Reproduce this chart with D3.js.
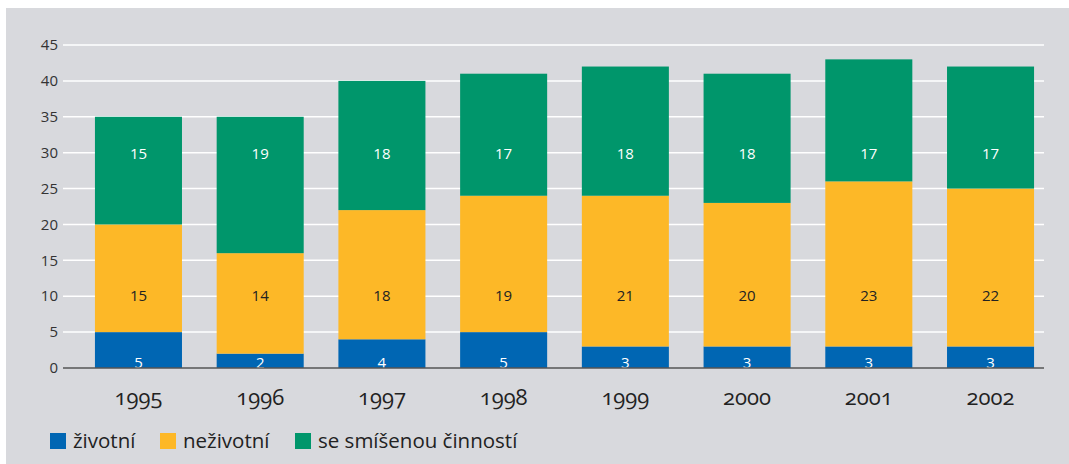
<!DOCTYPE html>
<html>
<head>
<meta charset="utf-8">
<script src="https://cdn.jsdelivr.net/npm/d3@7"></script>
<style>
  body { margin: 0; background: #fff; }
  svg { display: block; font-family: "Open Sans", "DejaVu Sans", sans-serif; }
  .tick-label { font-size: 15px; fill: #333; }
  .year { font-size: 22px; fill: #222; font-variant-numeric: oldstyle-nums; }
  .val { font-size: 15px; }
  .legend text { font-size: 20.5px; fill: #222; }
</style>
</head>
<body>
<div id="chart"></div>
<script>
// Years on the x axis
var years = ["1995", "1996", "1997", "1998", "1999", "2000", "2001", "2002"];
// Series values (stacked bottom to top)
var zivotni = [5, 2, 4, 5, 3, 3, 3, 3];
var nezivotni = [15, 14, 18, 19, 21, 20, 23, 22];
var smisenou = [15, 19, 18, 17, 18, 18, 17, 17];
var seriesNames = ["životní", "neživotní", "se smíšenou činností"];
var yTicks = [0, 5, 10, 15, 20, 25, 30, 35, 40, 45];

function stackedChart(id) {
  var width = 1069, height = 464;
  var colors = ["#0066b3", "#fdb827", "#00966b"];
  var labelColors = ["#fff", "#222", "#fff"];
  // fixed label heights, in data units, for each series
  var labelAt = [0, 10, 29.8];

  var svg = d3.select("div#" + id)
    .append("svg")
      .attr("width", width)
      .attr("height", height);

  // grey panel
  svg.append("rect")
    .attr("x", 6).attr("y", 8)
    .attr("width", width - 6).attr("height", height - 8)
    .attr("fill", "#d8d9dd");

  var gridLeft = 63, gridRight = 1044;

  var xScale = d3.scaleBand()
      .domain(years)
      .range([77.6, 1051.4])
      .paddingInner(0.285)
      .paddingOuter(0.1425);

  var yScale = d3.scaleLinear()
      .domain([0, 45])
      .range([368, 45]);

  // gridlines
  svg.append("g").selectAll("line")
    .data(yTicks.filter(function (d) { return d > 0; }))
    .enter().append("line")
      .attr("x1", gridLeft).attr("x2", gridRight)
      .attr("y1", function (d) { return yScale(d); })
      .attr("y2", function (d) { return yScale(d); })
      .attr("stroke", "#fff")
      .attr("stroke-width", 1.5);

  // y tick labels
  svg.append("g").selectAll("text")
    .data(yTicks)
    .enter().append("text")
      .attr("class", "tick-label")
      .attr("x", 58)
      .attr("y", function (d) { return yScale(d); })
      .attr("dy", "0.35em")
      .attr("text-anchor", "end")
      .text(function (d) { return d; });

  // build stack from the arrays
  var table = years.map(function (y, i) {
    return { year: y, a: zivotni[i], b: nezivotni[i], c: smisenou[i] };
  });
  var stack = d3.stack().keys(["a", "b", "c"])(table);

  var layer = svg.append("g").selectAll("g")
    .data(stack)
    .enter().append("g")
      .attr("fill", function (d, i) { return colors[i]; });

  layer.selectAll("rect")
    .data(function (d) { return d; })
    .enter().append("rect")
      .attr("x", function (d) { return xScale(d.data.year); })
      .attr("width", xScale.bandwidth())
      .attr("y", function (d) { return yScale(d[1]); })
      .attr("height", function (d) { return yScale(d[0]) - yScale(d[1]); });

  // value labels
  stack.forEach(function (s, si) {
    svg.append("g").selectAll("text")
      .data(s)
      .enter().append("text")
        .attr("class", "val")
        .attr("x", function (d) { return xScale(d.data.year) + xScale.bandwidth() / 2; })
        .attr("y", yScale(labelAt[si]))
        .attr("dy", si === 0 ? "0" : "0.35em")
        .attr("text-anchor", "middle")
        .attr("fill", labelColors[si])
        .text(function (d) { return d[1] - d[0]; });
  });

  // baseline
  svg.append("line")
    .attr("x1", gridLeft).attr("x2", gridRight)
    .attr("y1", yScale(0)).attr("y2", yScale(0))
    .attr("stroke", "#555")
    .attr("stroke-width", 1.5);

  // year labels
  svg.append("g").selectAll("text")
    .data(years)
    .enter().append("text")
      .attr("class", "year")
      .attr("x", function (d) { return xScale(d) + xScale.bandwidth() / 2; })
      .attr("y", 405)
      .attr("text-anchor", "middle")
      .text(function (d) { return d; });

  // legend
  var legendX = [50, 160, 295];
  var legend = svg.append("g").attr("class", "legend");
  seriesNames.forEach(function (name, i) {
    legend.append("rect")
      .attr("x", legendX[i]).attr("y", 433)
      .attr("width", 16).attr("height", 16)
      .attr("fill", colors[i]);
    legend.append("text")
      .attr("x", legendX[i] + 23)
      .attr("y", 448)
      .text(name);
  });
}

stackedChart("chart");
</script>
</body>
</html>
